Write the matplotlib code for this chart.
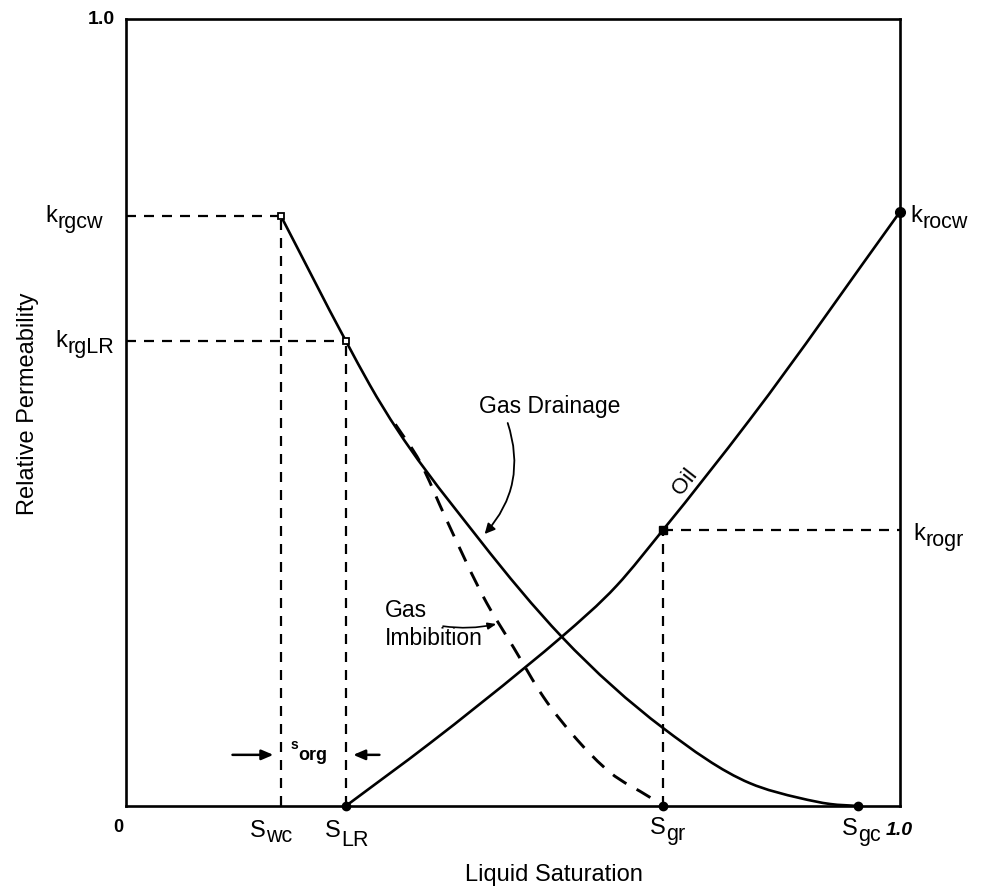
import numpy as np
import matplotlib.pyplot as plt
from matplotlib.patches import FancyArrowPatch, PathPatch
from matplotlib.path import Path

plt.rcParams["font.family"] = ["Liberation Sans", "DejaVu Sans"]

# end-point saturations and permeabilities
swc = 0.200
slr = 0.284
sgr = 0.694
sgc = 0.946
krgcw = 0.750
krglr = 0.591
krogr = 0.351
krocw = 0.755

# gas drainage curve (krg vs liquid saturation)
drain_s = [0.200, 0.284, 0.315, 0.457, 0.563, 0.694, 0.806, 0.871, 0.910, 0.946]
drain_k = [0.750, 0.591, 0.535, 0.338, 0.215, 0.099, 0.029, 0.010, 0.0025, 0.000]

# gas imbibition curve, leaves the drainage curve and ends at Sgr
imb_s = [0.348, 0.380, 0.413, 0.466, 0.501, 0.539, 0.583, 0.625, 0.677, 0.694]
imb_k = [0.485, 0.437, 0.366, 0.258, 0.201, 0.139, 0.084, 0.043, 0.011, 0.000]

# oil curve
oil_s = [0.284, 0.393, 0.518, 0.563, 0.634, 0.694, 0.806, 1.000]
oil_k = [0.000, 0.080, 0.178, 0.215, 0.280, 0.351, 0.491, 0.755]


def smooth_path(xs, ys):
    # cubic bezier through the points, slopes from the neighbouring secants
    x = np.asarray(xs, float)
    y = np.asarray(ys, float)
    h = np.diff(x)
    d = np.diff(y) / h
    m = np.empty_like(x)
    m[0], m[-1] = d[0], d[-1]
    m[1:-1] = (h[1:] * d[:-1] + h[:-1] * d[1:]) / (h[:-1] + h[1:])
    verts = [(x[0], y[0])]
    codes = [Path.MOVETO]
    for i in range(len(x) - 1):
        verts += [(x[i] + h[i] / 3, y[i] + m[i] * h[i] / 3),
                  (x[i + 1] - h[i] / 3, y[i + 1] - m[i + 1] * h[i] / 3),
                  (x[i + 1], y[i + 1])]
        codes += [Path.CURVE4] * 3
    return Path(verts, codes)


def sub_label(x, y, main, sub, fs=17, sfs=15.5, drop=4.0):
    t = ax.text(x, y, main, ha="left", va="baseline", fontsize=fs,
                clip_on=False)
    ax.annotate(sub, xy=(1, 0), xycoords=t, xytext=(0.3, -drop),
                textcoords="offset points", ha="left", va="bottom",
                fontsize=sfs, annotation_clip=False)


fig = plt.figure(figsize=(9.81, 8.86), dpi=100)
ax = fig.add_axes([126 / 981, 80 / 886, 774 / 981, 787 / 886])
ax.set_xlim(0, 1)
ax.set_ylim(0, 1)
ax.set_xticks([])
ax.set_yticks([])
for sp in ax.spines.values():
    sp.set_linewidth(1.9)

dash = (0, (4.5, 3.6))
kw = dict(color="black", lw=1.6, ls=dash)
# reference lines for the end points
ax.plot([0, swc], [krgcw, krgcw], **kw)
ax.plot([swc, swc], [0, krgcw], **kw)
ax.plot([0, slr], [krglr, krglr], **kw)
ax.plot([slr, slr], [0, krglr], **kw)
ax.plot([sgr, sgr], [0, krogr], **kw)
ax.plot([sgr, 1], [krogr, krogr], **kw)

ax.add_patch(PathPatch(smooth_path(drain_s, drain_k), fill=False,
                       color="black", lw=1.9, capstyle="round"))
ax.add_patch(PathPatch(smooth_path(imb_s, imb_k), fill=False,
                       color="black", lw=2.1, ls=(0, (5.5, 4.0))))
ax.add_patch(PathPatch(smooth_path(oil_s, oil_k), fill=False,
                       color="black", lw=1.9, capstyle="round"))

# end-point markers
ax.plot([swc, slr], [krgcw, krglr], ls="none", marker="s", ms=5,
        mfc="white", mec="black", mew=1.3)
ax.plot([slr, sgr, sgc], [0, 0, 0], ls="none", marker="o", ms=6,
        color="black", clip_on=False)
ax.plot([1.0], [krocw], ls="none", marker="o", ms=7, color="black",
        clip_on=False)
ax.plot([sgr], [krogr], ls="none", marker="s", ms=6, color="black")

# y-axis end-point labels
sub_label(-0.1047, krgcw - 0.008, "k", "rgcw")
sub_label(-0.0917, krglr - 0.008, "k", "rgLR")
sub_label(1.0129, 0.742, "k", "rocw")
sub_label(1.017, 0.338, "k", "rogr")
ax.text(-0.014, 1.0, "1.0", ha="right", va="center", fontsize=14, fontweight="bold")

# x-axis labels
ax.text(-0.01, -0.016, "0", ha="center", va="top", fontsize=13, fontweight="bold")
sub_label(0.160, -0.039, "S", "wc")
sub_label(0.257, -0.039, "S", "LR", drop=6.5)
sub_label(0.677, -0.036, "S", "gr")
sub_label(0.925, -0.037, "S", "gc")
ax.text(0.981, -0.037, "1.0", ha="left", va="baseline", fontsize=14,
        fontweight="bold", style="italic")

ax.text(0.553, -0.088, "Liquid Saturation", ha="center", va="center", fontsize=17)
ax.text(-0.127, 0.511, "Relative Permeability", ha="center", va="center",
        fontsize=17, rotation=90)

# curve labels
ax.text(0.548, 0.507, "Gas Drainage", ha="center", va="center", fontsize=16.5)
ax.add_patch(FancyArrowPatch((0.492, 0.490), (0.461, 0.343),
                             connectionstyle="arc3,rad=-0.3",
                             arrowstyle="-|>,head_length=6,head_width=3",
                             color="black", lw=1.3))
ax.text(0.334, 0.248, "Gas", ha="left", va="center", fontsize=16.5)
ax.text(0.334, 0.213, "Imbibition", ha="left", va="center", fontsize=16.5)
ax.add_patch(FancyArrowPatch((0.406, 0.229), (0.482, 0.232),
                             connectionstyle="arc3,rad=0.1",
                             arrowstyle="-|>,head_length=5,head_width=2",
                             color="black", lw=1.2))
ax.text(0.722, 0.412, "Oil", ha="center", va="center", fontsize=16, rotation=52)

# residual oil saturation bracket
ax.add_patch(FancyArrowPatch((0.134, 0.065), (swc - 0.006, 0.065),
                             arrowstyle="-|>,head_length=7,head_width=3",
                             color="black", lw=1.8))
ax.add_patch(FancyArrowPatch((0.331, 0.065), (slr + 0.006, 0.065),
                             arrowstyle="-|>,head_length=7,head_width=3",
                             color="black", lw=1.8))
ax.text(0.213, 0.068, "s", ha="left", va="bottom", fontsize=10, fontweight="bold")
ax.text(0.222, 0.053, "org", ha="left", va="bottom", fontsize=13, fontweight="bold")

fig.savefig("out.png", dpi=100, facecolor="white")
